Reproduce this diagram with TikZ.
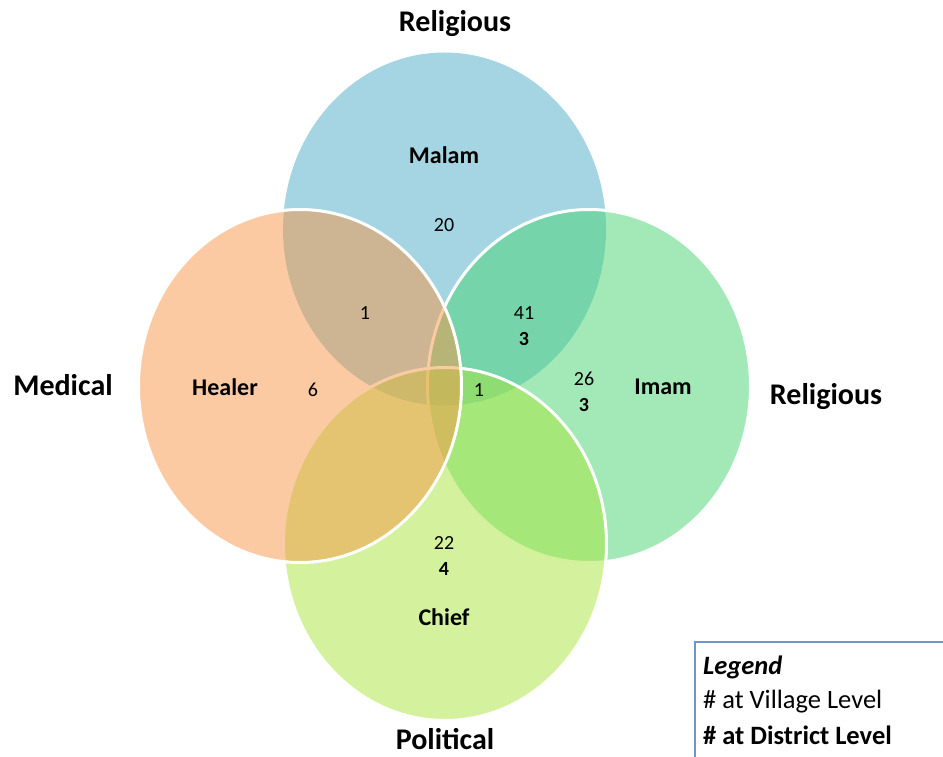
\documentclass[tikz,border=0pt]{standalone}
\usepackage{fontspec}
\setmainfont{Carlito}
\definecolor{setblue}{HTML}{4BACC6}
\definecolor{setgreen}{HTML}{47D371}
\definecolor{setlime}{HTML}{A9E53B}
\definecolor{setorange}{HTML}{F79646}
\definecolor{legendline}{HTML}{7094CC}
\begin{document}
\begin{tikzpicture}[x=1pt,y=-1pt,
  setfill/.style={fill opacity=0.5},
  setring/.style={fill opacity=0.5, draw=white, line width=3pt},
  category/.style={font=\fontsize{30}{36}\selectfont\bfseries, inner sep=0pt},
  role/.style={font=\fontsize{24}{29}\selectfont\bfseries, inner sep=0pt},
  village/.style={font=\fontsize{20}{24}\selectfont, inner sep=0pt},
  district/.style={font=\fontsize{20}{24}\selectfont\bfseries, inner sep=0pt},
  legendtext/.style={font=\fontsize{26.5}{31}\selectfont, anchor=west, inner sep=0pt}]
\useasboundingbox (0,0) rectangle (943,757);
\begin{scope}
\clip (0,0) rectangle (943,757);
% the four sets, stacked so that each white outline shows where it does
\path[setfill, fill=setblue]  (444.5,229) ellipse [x radius=161.5pt, y radius=176.5pt];
\path[setring, fill=setgreen] (589,386)   ellipse [x radius=161.5pt, y radius=176.5pt];
\path[setring, fill=setlime]  (445,544)   ellipse [x radius=161.5pt, y radius=176.5pt];
\path[setring, fill=setorange](300,386)   ellipse [x radius=161.5pt, y radius=176.5pt];
% legend frame, running off the right and bottom edges
\draw[legendline, line width=1.2pt] (695,642) rectangle (980,800);
\end{scope}

% category titles
\node[category] (relTop)   at (455,24)  {Religious};
\node[category] (medical)  at (63,385)  {Medical};
\node[category] (relRight) at (826,397) {Religious};
\node[category] (political) at (445,739) {Political};

% role names
\node[role] (malam)  at (444,155) {Malam};
\node[role] (healer) at (225,387) {Healer};
\node[role] (imam)   at (663,387) {Imam};
\node[role] (chief)  at (444,617) {Chief};

% counts per region
\node[village] (nMalam)   at (444,225) {20};
\node[village] (nMalHeal) at (365,313) {1};
\node[village] (nHealer)  at (313,390) {6};
\node[village] (nMalImam) at (524,313) {41};
\node[district] (dMalImam) at (524,339) {3};
\node[village] (nImam)    at (584,379) {26};
\node[district] (dImam)   at (584,405) {3};
\node[village] (nCentre)  at (479,390) {1};
\node[village] (nChief)   at (444,543) {22};
\node[district] (dChief)  at (444,569) {4};

% legend
\node[legendtext, font=\fontsize{26.5}{31}\selectfont\bfseries\itshape] (legTitle) at (703,667) {Legend};
\node[legendtext] (legVillage) at (703,702) {\# at Village Level};
\node[legendtext, font=\fontsize{26.5}{31}\selectfont\bfseries] (legDistrict) at (703,735) {\# at District Level};
\end{tikzpicture}
\end{document}
